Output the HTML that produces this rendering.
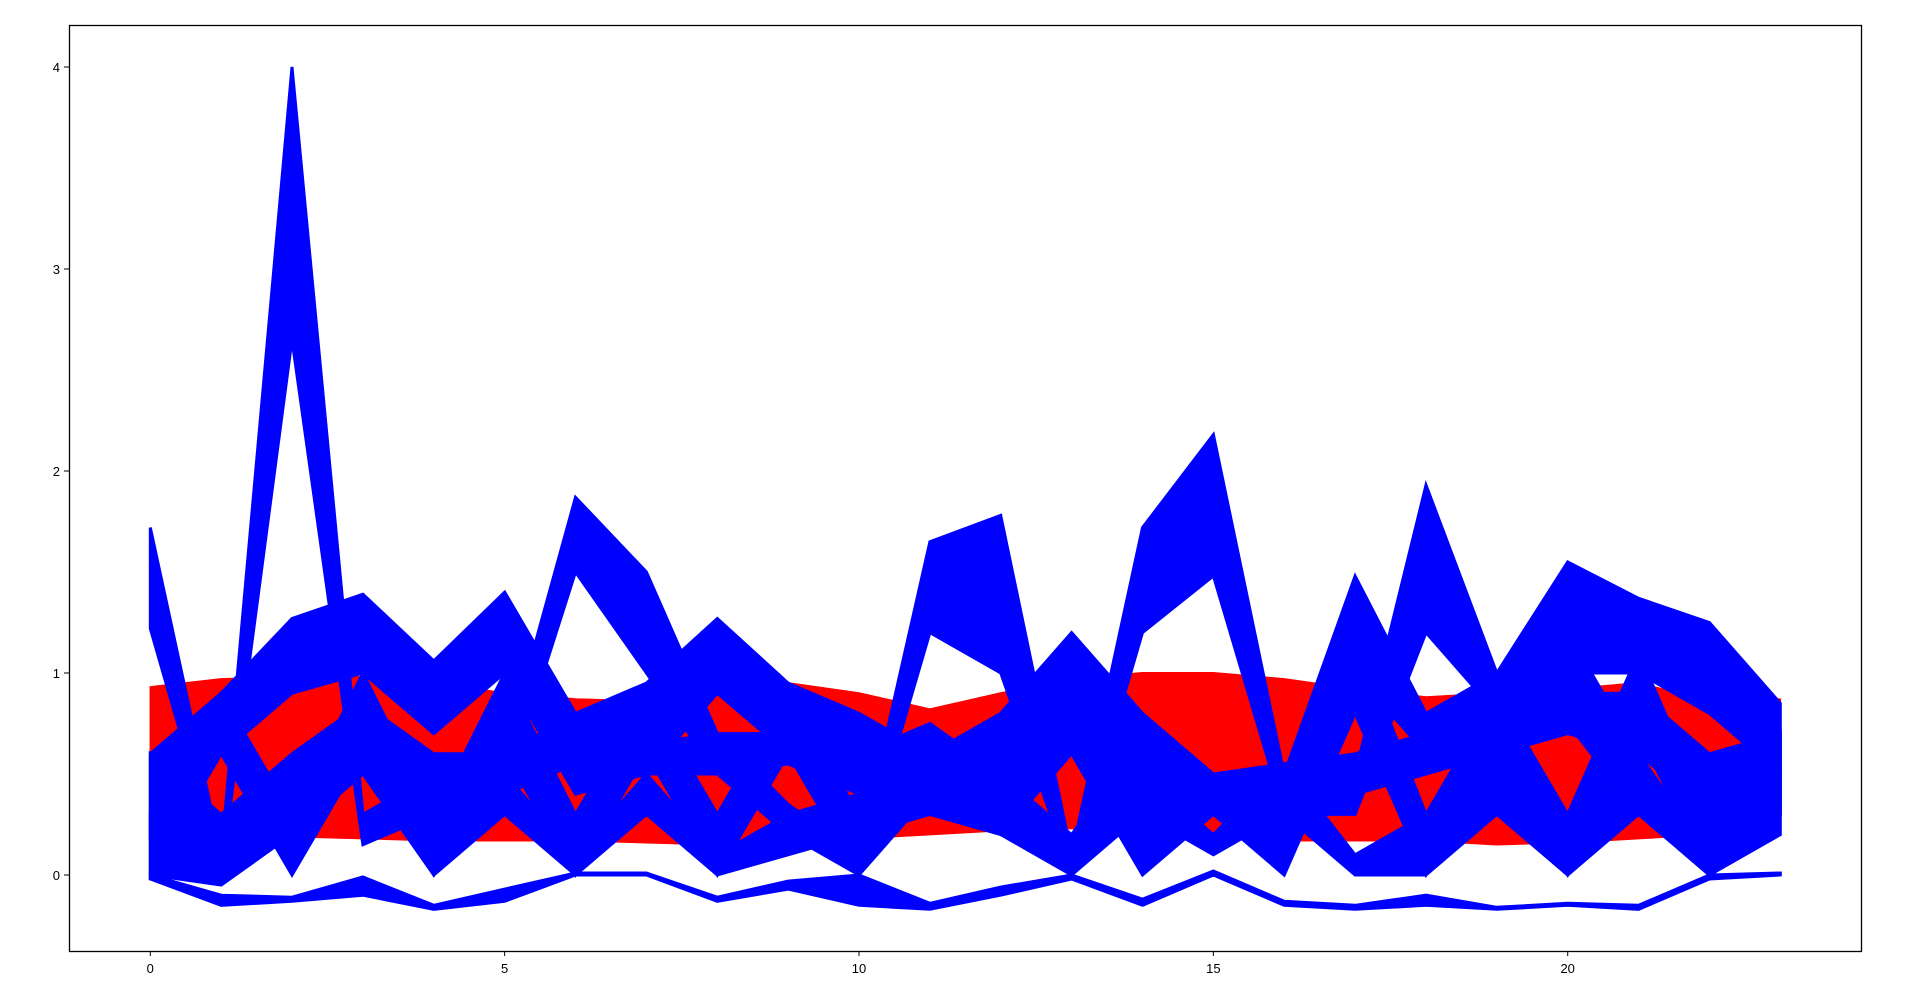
<!DOCTYPE html>
<html><head><meta charset="utf-8"><style>
html,body{margin:0;padding:0;background:#fff;}
svg{display:block;font-family:"Liberation Sans","DejaVu Sans",sans-serif;}
</style></head><body>
<svg id="chart" width="1920" height="986" viewBox="0 0 1920 986" xmlns="http://www.w3.org/2000/svg">
<rect x="0" y="0" width="1920" height="986" fill="#fff"/>
<g id="plot"></g>
<rect x="69.5" y="25.5" width="1792" height="926" fill="none" stroke="#000" stroke-width="1.3"/>
<g id="axes"></g>
</svg>
<script>
const xCategories = [0,1,2,3,4,5,6,7,8,9,10,11,12,13,14,15,16,17,18,19,20,21,22,23];
const xTicks = [0,5,10,15,20];
const yTicks = [0,1,2,3,4];
const redTop = [0.93,0.97,0.98,0.98,0.95,0.9,0.87,0.86,0.93,0.95,0.9,0.82,0.9,0.97,1.0,1.0,0.97,0.92,0.88,0.9,0.92,0.95,0.86,0.87];
const redBottom = [0.22,0.2,0.19,0.18,0.17,0.17,0.17,0.16,0.15,0.16,0.18,0.2,0.22,0.23,0.2,0.18,0.17,0.17,0.17,0.15,0.16,0.18,0.2,0.23];
const blueAHi = [1.72,0.1,4.0,0.3,0.5,0.6,1.87,1.5,0.7,0.35,0.1,1.65,1.78,0.1,1.72,2.18,0.5,0.5,1.93,1.0,1.2,0.6,0.1,0.6];
const blueALo = [1.22,0.0,2.65,0.15,0.3,0.4,1.5,1.0,0.5,0.2,0.0,1.2,1.0,0.0,1.2,1.48,0.3,0.3,1.2,0.8,0.75,0.3,0.0,0.3];
const blueBHi = [0.6,0.9,1.27,1.39,1.06,1.4,0.8,0.95,1.27,0.95,0.8,0.6,0.8,1.2,0.8,0.5,0.5,1.48,0.8,1.0,1.55,1.37,1.25,0.85];
const blueBLo = [0.2,0.6,0.9,1.0,0.7,1.0,0.4,0.5,0.9,0.6,0.5,0.3,0.4,0.8,0.4,0.3,0.3,1.0,0.6,0.7,1.0,1.0,0.8,0.5];
const blueCHi = [0.3,0.1,0.4,0.7,0.2,0.5,0.1,0.5,0.1,0.3,0.4,0.55,0.3,0.05,0.5,0.2,0.55,0.1,0.3,0.6,0.1,0.6,0.1,0.5];
const blueCLo = [0.0,-0.05,0.2,0.5,0.0,0.3,0.0,0.3,0.0,0.1,0.2,0.3,0.2,0.0,0.3,0.1,0.3,0.0,0.0,0.3,0.0,0.3,0.0,0.2];
const blueDHi = [0.0,-0.1,-0.11,-0.01,-0.15,-0.07,0.01,0.01,-0.11,-0.03,0.0,-0.14,-0.06,0.0,-0.12,0.02,-0.13,-0.15,-0.1,-0.16,-0.14,-0.15,0.0,0.01];
const blueDLo = [-0.02,-0.15,-0.13,-0.1,-0.17,-0.13,0.0,0.0,-0.13,-0.07,-0.15,-0.17,-0.1,-0.02,-0.15,0.0,-0.15,-0.17,-0.15,-0.17,-0.15,-0.17,-0.02,0.0];
const blueEHi = [0.6,0.3,0.6,0.85,0.6,0.6,0.8,0.65,0.7,0.7,0.6,0.75,0.5,0.2,0.7,0.5,0.55,0.6,0.7,0.85,0.9,0.9,0.6,0.7];
const blueELo = [0.3,0.1,0.3,0.6,0.3,0.4,0.55,0.5,0.5,0.55,0.4,0.5,0.3,0.0,0.4,0.35,0.35,0.4,0.5,0.6,0.7,0.6,0.3,0.3];
const blueFHi = [0.3,0.9,0.3,1.0,0.3,1.0,0.3,0.9,0.3,0.9,0.3,0.6,0.4,1.0,0.3,0.5,0.3,1.2,0.3,0.9,0.3,1.1,0.3,0.7];
const blueFLo = [0.0,0.6,0.0,0.6,0.0,0.6,0.0,0.6,0.0,0.6,0.0,0.4,0.2,0.6,0.0,0.3,0.0,0.8,0.0,0.6,0.0,0.7,0.0,0.3];

const NS="http://www.w3.org/2000/svg";
function xs(v){return 150.3+(v)*70.87;}
function ys(v){return 875-(v)*202;}
const plot=document.getElementById('plot');
const axes=document.getElementById('axes');
function band(hi,lo,color,name,sw){
  const pts=[];
  for(let i=0;i<xCategories.length;i++)pts.push(xs(xCategories[i]).toFixed(1)+','+ys(hi[i]).toFixed(1));
  for(let i=xCategories.length-1;i>=0;i--)pts.push(xs(xCategories[i]).toFixed(1)+','+ys(lo[i]).toFixed(1));
  const p=document.createElementNS(NS,'polygon');
  p.setAttribute('points',pts.join(' '));
  p.setAttribute('fill',color);p.setAttribute('stroke',color);p.setAttribute('stroke-width',sw||'3');
  p.setAttribute('stroke-linejoin','miter');
  
  
  plot.appendChild(p);
}
function line(vals,color,name){
  const p=document.createElementNS(NS,'polyline');
  p.setAttribute('points',vals.map((v,i)=>xs(xCategories[i]).toFixed(1)+','+ys(v).toFixed(1)).join(' '));
  p.setAttribute('fill','none');p.setAttribute('stroke',color);p.setAttribute('stroke-width','2');
  
  
  plot.appendChild(p);
}
band(redTop,redBottom,'#ff0000','red-series-band','1.5');
line(redTop,'#ff0000','red-series-top-line');
band(blueFHi,blueFLo,'#0000ff','blue-series-bundle-f');
band(blueEHi,blueELo,'#0000ff','blue-series-bundle-e');
band(blueCHi,blueCLo,'#0000ff','blue-series-bundle-c');
band(blueBHi,blueBLo,'#0000ff','blue-series-bundle-b');
band(blueAHi,blueALo,'#0000ff','blue-series-bundle-a');
band(blueDHi,blueDLo,'#0000ff','blue-series-bundle-d');
line(blueAHi,'#0000ff','blue-series-top-line');
line(blueDHi,'#0000ff','blue-series-low-line');

xTicks.forEach(t=>{
  const x=xs(t);
  const l=document.createElementNS(NS,'line');
  l.setAttribute('x1',x);l.setAttribute('x2',x);l.setAttribute('y1',951);l.setAttribute('y2',956);
  l.setAttribute('stroke','#000');
  
  
  axes.appendChild(l);
  const tx=document.createElementNS(NS,'text');
  tx.setAttribute('x',x);tx.setAttribute('y',973);tx.setAttribute('text-anchor','middle');tx.setAttribute('font-size','13');
  tx.textContent=t;
  
  
  axes.appendChild(tx);
});
yTicks.forEach(t=>{
  const y=ys(t);
  const l=document.createElementNS(NS,'line');
  l.setAttribute('x1',64);l.setAttribute('x2',69);l.setAttribute('y1',y);l.setAttribute('y2',y);
  l.setAttribute('stroke','#000');
  
  
  axes.appendChild(l);
  const tx=document.createElementNS(NS,'text');
  tx.setAttribute('x',60);tx.setAttribute('y',y+5);tx.setAttribute('text-anchor','end');tx.setAttribute('font-size','13');
  tx.textContent=t;
  
  
  axes.appendChild(tx);
});
</script>
</body></html>
